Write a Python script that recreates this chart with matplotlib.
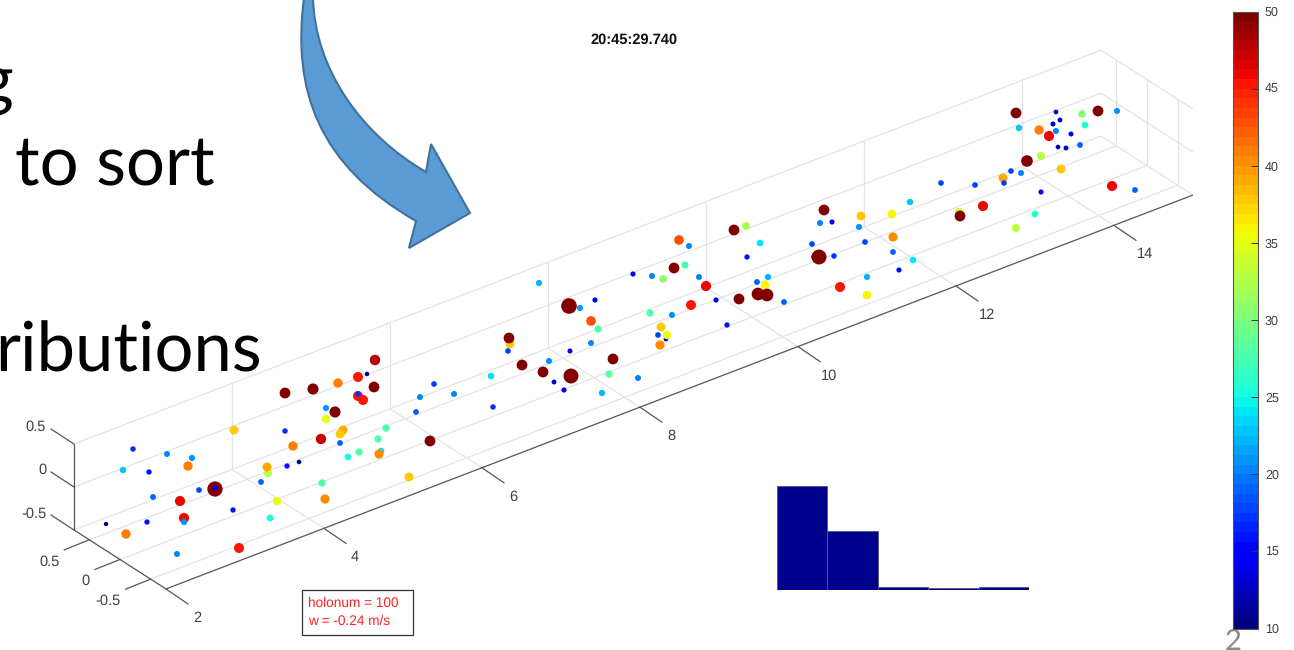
"""Slide screenshot: droplet positions in a sample volume, coloured by diameter."""
import numpy as np
import matplotlib
matplotlib.use("Agg")
import matplotlib.pyplot as plt
from matplotlib.patches import PathPatch, Rectangle
from matplotlib.path import Path
from matplotlib.colors import Normalize
from matplotlib.cm import ScalarMappable

W, H = 1294, 650
plt.rcParams["font.family"] = ["Liberation Sans", "DejaVu Sans"]
plt.rcParams["text.hinting"] = "no_hinting"

# axis ticks of the 3d box
x_ticks = [2, 4, 6, 8, 10, 12, 14]
y_ticks = [0.5, 0, -0.5]
z_ticks = [0.5, 0, -0.5]
x_lim = (2, 15)
y_lim = (-0.75, 0.75)
z_lim = (-0.5, 0.5)

# droplets: on-screen position and diameter
drop_sx = [375, 358, 367, 338, 313, 285, 374, 358, 363, 358, 326, 335, 326, 434, 420, 416, 491, 386, 378, 343,
           340, 340, 321, 285, 234, 293, 381, 379, 359, 348, 430, 133, 167, 192, 123, 149, 188, 268, 267, 287,
           299, 261, 322, 409, 153, 199, 217, 215, 215, 180, 277, 325, 233, 184, 184, 147, 106, 270, 126, 177,
           239,
           824, 861, 832, 820, 859, 734, 746, 679, 689, 760, 812, 865, 747, 814, 819, 834, 674, 685, 633, 652,
           663, 699, 706, 539, 768, 757, 765, 758, 767, 739, 716, 784, 840, 867, 867, 595, 569, 580, 691, 591,
           598, 650, 672, 661, 658, 666, 667, 660, 727, 510, 509, 508, 591, 570, 613, 549, 522, 543, 571, 609,
           638, 554, 564, 602, 454, 493,
           1016, 1056, 1060, 1053, 1082, 1098, 1117, 1085, 1019, 1039, 1056, 1071, 1049, 1080, 1058, 1066, 1041,
           1027, 1061, 1011, 1021, 1003, 1004, 941, 975, 1041, 1112, 1135, 910, 892, 983, 959, 960, 1035, 1016,
           893, 893, 913, 899]
drop_sy = [360, 377, 374, 383, 389, 393, 387, 396, 400, 394, 408, 412, 419, 384, 397, 412, 376, 428, 439, 430,
           434, 443, 439, 431, 430, 446, 451, 454, 452, 457, 441, 449, 454, 458, 470, 472, 466, 473, 467, 466,
           462, 482, 483, 477, 497, 490, 486, 489, 488, 501, 501, 499, 510, 518, 522, 522, 524, 518, 534, 554,
           548,
           210, 216, 222, 223, 227, 230, 226, 240, 246, 243, 244, 242, 257, 257, 257, 256, 268, 265, 274, 276,
           279, 277, 286, 283, 277, 282, 285, 294, 295, 299, 300, 302, 287, 277, 295, 300, 306, 308, 305, 321,
           329, 313, 315, 327, 335, 339, 335, 345, 325, 344, 338, 351, 343, 351, 359, 361, 365, 372, 376, 374,
           378, 382, 390, 393, 394, 407,
           113, 112, 120, 124, 114, 111, 111, 125, 128, 130, 131, 134, 136, 145, 147, 148, 156,
           161, 169, 171, 173, 178, 183, 183, 185, 192, 186, 190, 202, 214, 206, 212, 216, 214, 228,
           237, 252, 260, 270]
drop_d = [48, 45, 11, 41, 52, 50, 50, 45, 45, 17, 21, 52, 35, 18, 20, 19, 24, 28, 28, 39,
          38, 19, 47, 17, 38, 41, 24, 40, 27.5, 25, 50, 17, 20, 21, 23, 16, 41, 33, 39, 16,
          11, 19, 28, 38, 19, 18, 18, 78, 15, 46, 35, 40, 16, 46, 21, 16, 10, 25, 41, 20,
          45,
          50, 38, 15, 20, 21, 50, 32, 43, 20, 24, 18, 18, 16, 18, 76, 17, 50, 27, 15, 20,
          31, 20, 46, 22, 22, 19, 36, 62, 62, 50, 15, 19, 45, 22, 36, 15, 80, 21, 45, 43,
          28, 28, 21, 38, 18, 12, 35, 40, 16, 38, 50, 18, 20, 14, 50, 21, 50, 50, 76, 28.5,
          20, 13, 15, 22, 20, 17,
          50, 12, 13, 14, 30, 50, 21, 26, 23, 41, 20, 14, 46, 19, 12, 13, 33,
          55, 38, 18, 20, 39, 17, 18, 18, 15, 46, 19, 23, 36, 46, 34, 50, 26, 33,
          40, 19, 24, 15]

# small histogram of droplet counts
hist_counts = [60, 34, 2, 1, 2]

cbar_ticks = [10, 15, 20, 25, 30, 35, 40, 45, 50]

# slide arrow in reference pixels, two cubic curves plus the head
arrow_verts = [(304, -2), (292, 90), (318, 165), (416, 221),
               (409, 248), (470, 213), (431, 144), (426, 172),
               (362, 135), (315, 70), (313, -2), (304, -2)]
arrow_codes = [Path.MOVETO, Path.CURVE4, Path.CURVE4, Path.CURVE4,
               Path.LINETO, Path.LINETO, Path.LINETO, Path.LINETO,
               Path.CURVE4, Path.CURVE4, Path.CURVE4, Path.CLOSEPOLY]


def project(x, y, z):
    # orthographic view of the box, result in picture pixels
    sx = 74 + (x - 2) * 79.0 + (0.75 - y) * 61.3
    sy = 530 - (x - 2) * 30.3 + (0.75 - y) * 39.3 - (z + 0.5) * 86
    return sx, sy


def seg(ax, a, b, color="#e3e3e3", lw=0.9):
    pa, pb = project(*a), project(*b)
    ax.plot([pa[0], pb[0]], [pa[1], pb[1]], color=color, lw=lw, solid_capstyle="butt", zorder=1)


fig = plt.figure(figsize=(W / 100, H / 100), dpi=100, facecolor="white")
ax = fig.add_axes([0, 0, 1, 1])
ax.set_xlim(0, W)
ax.set_ylim(H, 0)
ax.axis("off")

x0, x1 = x_lim
y0, y1 = y_lim
z0, z1 = z_lim

# grid on back wall, right wall and floor
for z in z_ticks:
    seg(ax, (x0, y1, z), (x1, y1, z))
    seg(ax, (x1, y1, z), (x1, y0, z))
for x in x_ticks[1:]:
    seg(ax, (x, y1, z0), (x, y1, z1))
    seg(ax, (x, y1, z0), (x, y0, z0))
for y in y_ticks:
    seg(ax, (x0, y, z0), (x1, y, z0))
    seg(ax, (x1, y, z0), (x1, y, z1))

# dark axis lines and ticks
dark = "#555555"
seg(ax, (x0, y1, z0), (x0, y1, z1), dark)
seg(ax, (x0, y1, z0), (x0, y0, z0), dark)
seg(ax, (x0, y0, z0), (x1, y0, z0), dark)
tick_font = dict(color="#404040", fontsize=10.5, ha="center", va="center")
for x in x_ticks:
    sx, sy = project(x, y0, z0)
    ax.plot([sx, sx + 22], [sy, sy + 15], color=dark, lw=0.9, zorder=1)
    ax.text(sx + 31, sy + 29, str(x), **tick_font)
for y, off in zip(y_ticks, [(-40, 22), (-34, 22), (-43, 22)]):
    sx, sy = project(x0, y, z0)
    ax.plot([sx, sx - 25], [sy, sy + 10], color=dark, lw=0.9, zorder=1)
    ax.text(sx + off[0], sy + off[1], f"{y:g}", **tick_font)
for z, off in zip(z_ticks, [(-38, -17), (-32, -17), (-40, -16)]):
    sx, sy = project(x0, y1, z)
    ax.plot([sx, sx - 23], [sy, sy - 15], color=dark, lw=0.9, zorder=1)
    ax.text(sx + off[0], sy + off[1], f"{z:g}", **tick_font)

# droplets, colour saturates at 50 while the marker keeps growing
norm = Normalize(10, 50)
cmap = plt.get_cmap("jet", 64)
drop_d = np.array(drop_d, dtype=float)
marker_px = 2.8 + 0.16 * drop_d
ax.scatter(drop_sx, drop_sy, s=(marker_px * 0.72) ** 2, c=drop_d, cmap=cmap, norm=norm,
           linewidths=0, zorder=3)

ax.text(634.5, 40, "20:45:29.740", fontsize=10.5, fontweight="bold", color="#111111",
        ha="center", va="center")

# annotation box
ax.add_patch(Rectangle((302, 590), 111, 45, facecolor="white", edgecolor="#333333", lw=0.9, zorder=4))
ax.text(308, 603, "holonum = 100", color="#ff2020", fontsize=9.8, va="center", zorder=5)
ax.text(308, 621, "w = -0.24 m/s", color="#ff2020", fontsize=9.8, va="center", zorder=5)

# slide arrow and the clipped slide text
ax.add_patch(PathPatch(Path(arrow_verts, arrow_codes), facecolor="#5b9bd5", edgecolor="#41719c",
                       lw=1.5, zorder=2))
slide_font = dict(family=["Lato", "DejaVu Sans"], fontsize=49.5, color="black", va="baseline", zorder=2)
ax.text(14, 103, "g", ha="right", **slide_font)
ax.text(15, 184, "to sort", ha="left", **slide_font)
ax.text(262, 371, "ributions", ha="right", **slide_font)
ax.text(1233, 649.5, "2", family=["Lato", "DejaVu Sans"], fontsize=21, color="#8a8a8a",
        ha="center", va="baseline")

# histogram inset
hax = fig.add_axes([777 / W, 1 - 590 / H, 252 / W, 104 / H])
hax.bar(np.arange(len(hist_counts)), hist_counts, width=1.0, align="edge", color="#00008f",
        edgecolor="#555577", linewidth=0.6)
hax.set_xlim(0, len(hist_counts))
hax.set_ylim(0, max(hist_counts))
hax.axis("off")

# colorbar
cax = fig.add_axes([1233 / W, 1 - 628.5 / H, 25 / W, 617 / H])
cb = fig.colorbar(ScalarMappable(norm=norm, cmap=cmap), cax=cax)
cb.set_ticks(cbar_ticks)
cax.tick_params(direction="in", length=5, width=0.7, labelsize=9, labelcolor="#404040", color="#333333", pad=5)
cb.outline.set_edgecolor("#555555")
cb.outline.set_linewidth(0.8)

fig.savefig("out.png", dpi=100)
print("Done.")
